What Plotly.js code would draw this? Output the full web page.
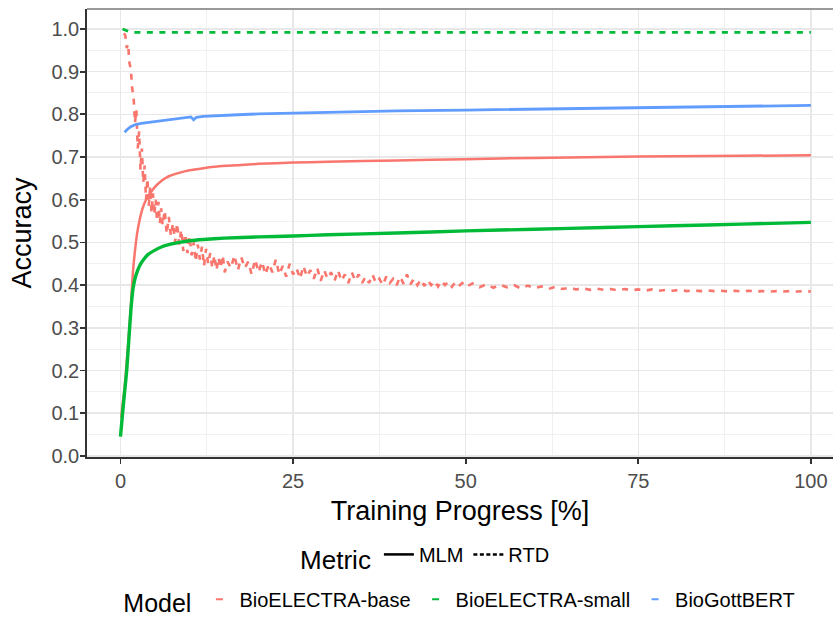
<!DOCTYPE html>
<html><head><meta charset="utf-8">
<script src="https://cdn.plot.ly/plotly-3.0.1.min.js"></script>
<style>html,body{margin:0;padding:0;background:#fff}#chart{width:833px;height:618px}</style>
</head><body><div id="chart"></div>
<script>
// ---------- data ----------
const xTickVals = [0, 25, 50, 75, 100];
const xTickText = ["0", "25", "50", "75", "100"];
const yTickVals = [0.0, 0.1, 0.2, 0.3, 0.4, 0.5, 0.6, 0.7, 0.8, 0.9, 1.0];
const yTickText = ["0.0","0.1","0.2","0.3","0.4","0.5","0.6","0.7","0.8","0.9","1.0"];
const models = ["BioELECTRA-base", "BioELECTRA-small", "BioGottBERT"];
const metrics = ["MLM", "RTD"];

// BioELECTRA-base, MLM
const baseMlmX = [0.1, 0.3, 0.6, 0.9, 1.2, 1.5, 1.8, 2.1, 2.4, 2.8, 3.2, 3.7, 4.3, 5, 6, 7, 8.5, 10, 12, 14, 17, 20, 25, 30, 40, 50, 60, 70, 80, 90, 100];
const baseMlmY = [0.09, 0.12, 0.16, 0.22, 0.28, 0.35, 0.43, 0.48, 0.52, 0.555, 0.58, 0.60, 0.615, 0.63, 0.645, 0.655, 0.663, 0.669, 0.674, 0.678, 0.681, 0.684, 0.687, 0.689, 0.692, 0.695, 0.698, 0.700, 0.702, 0.703, 0.704];

// BioELECTRA-small, MLM
const smallMlmX = [0, 0.3, 0.6, 0.9, 1.2, 1.5, 1.8, 2.1, 2.5, 3, 3.5, 4, 5, 6, 7, 8.5, 10, 12, 15, 20, 25, 30, 40, 50, 60, 70, 80, 90, 100];
const smallMlmY = [0.045, 0.10, 0.15, 0.20, 0.27, 0.34, 0.39, 0.415, 0.435, 0.452, 0.463, 0.472, 0.482, 0.49, 0.495, 0.50, 0.504, 0.507, 0.51, 0.513, 0.515, 0.518, 0.522, 0.527, 0.531, 0.535, 0.539, 0.543, 0.547];

// BioGottBERT, MLM
const gottMlmX = [0.6, 1, 1.5, 2, 3, 4, 5, 6.5, 8, 9.5, 10.2, 10.6, 11, 12, 14, 17, 20, 25, 30, 35, 40, 50, 60, 70, 80, 90, 100];
const gottMlmY = [0.758, 0.765, 0.771, 0.775, 0.779, 0.781, 0.784, 0.787, 0.789, 0.792, 0.794, 0.787, 0.793, 0.795, 0.797, 0.799, 0.801, 0.803, 0.805, 0.806, 0.808, 0.810, 0.812, 0.815, 0.817, 0.819, 0.821];

// BioELECTRA-small, RTD
const smallRtdX = [0.3, 0.8, 1.5, 3, 10, 25, 50, 75, 100];
const smallRtdY = [1.0, 0.996, 0.992, 0.992, 0.992, 0.992, 0.992, 0.992, 0.992];

// BioELECTRA-base, RTD (noisy evaluation series)
const baseRtdX = [
  0.5, 0.7, 0.9, 1.1, 1.3, 1.5, 1.7, 1.9, 2.1, 2.3, 2.5, 2.7, 2.9, 3.1, 3.3, 3.5, 3.7, 3.9, 4.1, 4.3, 4.5, 4.7, 4.9, 5.1, 5.3, 5.5, 5.7, 5.9, 6.1,
  6.4, 6.7, 7.0, 7.3, 7.6, 7.9, 8.2, 8.5, 8.8, 9.1, 9.4, 9.7, 10.0, 10.3, 10.6, 10.9, 11.2, 11.5, 11.8, 12.1, 12.4, 12.7, 13.0, 13.3, 13.6, 13.9, 14.2, 14.5, 14.8, 15.1,
  15.5, 16, 16.5, 17, 17.5, 18, 18.5, 19, 19.5, 20, 20.5, 21, 21.5, 22, 22.5, 23, 23.5, 24, 24.5, 25, 25.5, 26, 26.5, 27, 27.5, 28, 28.5, 29, 29.5, 30,
  30.5, 31, 31.5, 32, 32.5, 33, 33.5, 34, 34.5, 35, 35.5, 36, 36.5, 37, 37.5, 38, 38.5, 39, 39.5, 40, 40.5, 41, 41.5, 42, 42.5, 43, 43.5, 44, 44.5, 45,
  45.5, 46, 46.5, 47, 47.5, 48, 48.5, 49, 49.5, 50,
  51, 52, 53, 54, 55, 56, 57, 58, 59, 60, 61, 62, 63, 64, 65, 66, 67, 68, 69, 70, 71, 72, 73, 74, 75,
  76, 77, 78, 79, 80, 81, 82, 83, 84, 85, 86, 87, 88, 89, 90, 91, 92, 93, 94, 95, 96, 97, 98, 99, 100];
const baseRtdY = [
  0.99, 0.985, 0.955, 0.965, 0.92, 0.905, 0.86, 0.84, 0.78, 0.81, 0.72, 0.76, 0.67, 0.72, 0.64, 0.68, 0.60, 0.65, 0.585, 0.63, 0.57, 0.615, 0.565, 0.60, 0.55, 0.595, 0.545, 0.58, 0.54,
  0.575, 0.52, 0.56, 0.515, 0.545, 0.50, 0.545, 0.495, 0.53, 0.48, 0.52, 0.475, 0.515, 0.47, 0.50, 0.455, 0.495, 0.46, 0.49, 0.445, 0.485, 0.45, 0.475, 0.44, 0.47, 0.435, 0.465, 0.44, 0.47, 0.43,
  0.455, 0.44, 0.47, 0.435, 0.465, 0.44, 0.455, 0.425, 0.46, 0.43, 0.455, 0.425, 0.45, 0.43, 0.46, 0.425, 0.445, 0.42, 0.45, 0.425, 0.44, 0.415, 0.445, 0.42, 0.435, 0.415, 0.44, 0.41, 0.435, 0.415,
  0.43, 0.41, 0.435, 0.41, 0.425, 0.405, 0.43, 0.41, 0.425, 0.405, 0.42, 0.405, 0.425, 0.405, 0.415, 0.40, 0.42, 0.405, 0.415, 0.40, 0.42, 0.403, 0.425, 0.402, 0.415, 0.40, 0.413, 0.398, 0.412, 0.40,
  0.41, 0.397, 0.41, 0.40, 0.408, 0.396, 0.407, 0.398, 0.405, 0.396,
  0.404, 0.395, 0.402, 0.394, 0.401, 0.395, 0.40, 0.392, 0.399, 0.393, 0.397, 0.391, 0.396, 0.391, 0.394, 0.39, 0.393, 0.389, 0.392, 0.389, 0.391, 0.388, 0.391, 0.388, 0.39,
  0.387, 0.39, 0.387, 0.389, 0.387, 0.389, 0.386, 0.388, 0.386, 0.388, 0.386, 0.387, 0.385, 0.387, 0.385, 0.387, 0.385, 0.386, 0.385, 0.386, 0.385, 0.386, 0.385, 0.386, 0.385];

// ---------- style ----------
const RED = "#F8766D", GREEN = "#00BA38", BLUE = "#619CFF";
const FONT = "Liberation Sans, Arial, Helvetica, sans-serif";
const DASH = "6px,6.5px";

const traces = [
  {x: baseRtdX, y: baseRtdY, mode: "lines", line: {color: RED, width: 2.6, dash: DASH}, showlegend: false, hoverinfo: "skip"},
  {x: smallRtdX, y: smallRtdY, mode: "lines", line: {color: GREEN, width: 2.8, dash: DASH}, showlegend: false, hoverinfo: "skip"},
  {x: baseMlmX, y: baseMlmY, mode: "lines", line: {color: RED, width: 2.5, shape: "spline", smoothing: 0.6}, showlegend: false},
  {x: smallMlmX, y: smallMlmY, mode: "lines", line: {color: GREEN, width: 3.4, shape: "spline", smoothing: 0.6}, showlegend: false},
  {x: gottMlmX, y: gottMlmY, mode: "lines", line: {color: BLUE, width: 2.8}, showlegend: false},
  // legend: Metric
  {x: [null], y: [null], mode: "lines", name: metrics[0], line: {color: "#000", width: 2.5}, legend: "legend"},
  {x: [null], y: [null], mode: "lines", name: metrics[1], line: {color: "#000", width: 2.5, dash: "4px,2.5px"}, legend: "legend"},
  // legend: Model
  {x: [null], y: [null], mode: "markers", name: models[0], marker: {symbol: "line-ew", size: 5, color: RED, line: {color: RED, width: 2.2}}, legend: "legend2"},
  {x: [null], y: [null], mode: "markers", name: models[1], marker: {symbol: "line-ew", size: 5, color: GREEN, line: {color: GREEN, width: 2.2}}, legend: "legend2"},
  {x: [null], y: [null], mode: "markers", name: models[2], marker: {symbol: "line-ew", size: 5, color: BLUE, line: {color: BLUE, width: 2.2}}, legend: "legend2"}
];

const layout = {
  width: 833, height: 618, autosize: false,
  margin: {l: 87, r: 0, t: 9, b: 161, pad: 0, autoexpand: false},
  paper_bgcolor: "#fff", plot_bgcolor: "#fff",
  font: {family: FONT, color: "#000"},
  showlegend: true,
  xaxis: {
    range: [-4.85, 103.2], automargin: false,
    tickmode: "array", tickvals: xTickVals, ticktext: xTickText,
    ticks: "outside", ticklen: 5, tickwidth: 1.8, tickcolor: "#333",
    tickfont: {size: 20, color: "#4d4d4d", family: FONT},
    showline: true, linecolor: "#333", linewidth: 1.8,
    showgrid: true, gridcolor: "#e8e8e8", gridwidth: 1.5, zeroline: false,
    minor: {dtick: 12.5, tick0: 0, showgrid: true, gridcolor: "#f0f0f0", gridwidth: 1, ticks: ""},
    title: {text: "Training Progress [%]", font: {size: 27, family: FONT, color: "#000"}, standoff: 10}
  },
  yaxis: {
    range: [-0.0025, 1.0467], automargin: false,
    tickmode: "array", tickvals: yTickVals, ticktext: yTickText,
    ticks: "outside", ticklen: 5, tickwidth: 1.8, tickcolor: "#333", ticklabelstandoff: -3,
    tickfont: {size: 20, color: "#4d4d4d", family: FONT},
    showline: true, linecolor: "#333", linewidth: 1.8,
    showgrid: true, gridcolor: "#e8e8e8", gridwidth: 1.5, zeroline: false,
    minor: {dtick: 0.05, tick0: 0, showgrid: true, gridcolor: "#f0f0f0", gridwidth: 1, ticks: ""},
    title: {text: "Accuracy", font: {size: 27, family: FONT, color: "#000"}, standoff: 12}
  },
  shapes: [
    {type: "line", xref: "paper", yref: "paper", x0: 0, x1: 1, y0: 1, y1: 1, line: {color: "#999", width: 1.8}}
  ],
  legend: {
    orientation: "h", x: 0.283, y: -0.223, xanchor: "left", yanchor: "middle",
    bgcolor: "rgba(0,0,0,0)", borderwidth: 0, itemwidth: 30,
    font: {size: 20, family: FONT, color: "#000"},
    title: {text: "Metric", side: "left", font: {size: 26, family: FONT, color: "#000"}}
  },
  legend2: {
    orientation: "h", x: 0.046, y: -0.322, xanchor: "left", yanchor: "middle",
    bgcolor: "rgba(0,0,0,0)", borderwidth: 0, itemwidth: 30,
    font: {size: 20, family: FONT, color: "#000"},
    title: {text: "Model", side: "left", font: {size: 25, family: FONT, color: "#000"}}
  }
};

Plotly.newPlot("chart", traces, layout, {staticPlot: true, displayModeBar: false});
</script>
</body></html>
